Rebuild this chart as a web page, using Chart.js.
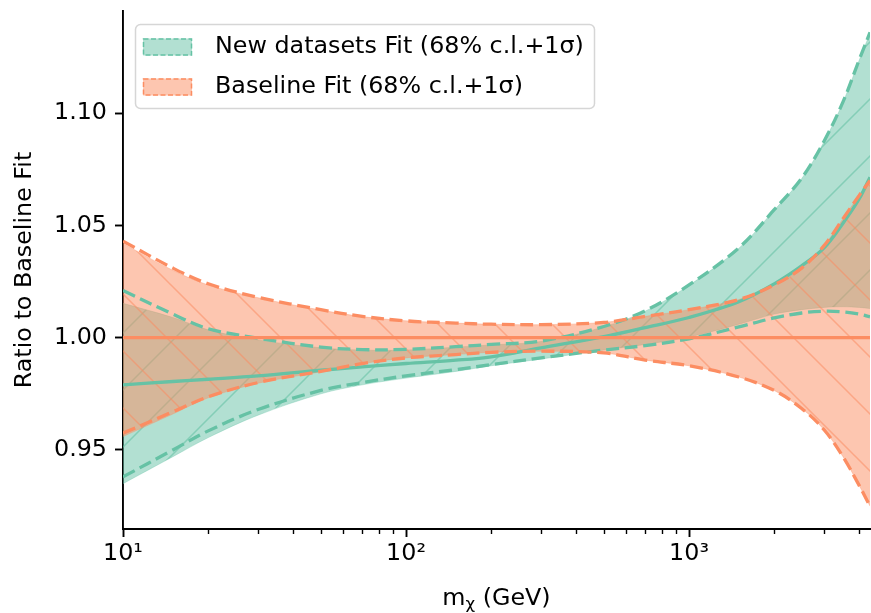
<!DOCTYPE html>
<html>
<head>
<meta charset="utf-8">
<script src="https://cdn.jsdelivr.net/npm/chart.js@4.4.1/dist/chart.umd.min.js"></script>
<style>
  html, body { margin: 0; padding: 0; background: #fff; }
</style>
</head>
<body>
<canvas id="myChart" width="871" height="613"></canvas>
<script>
// dark matter mass grid (GeV)
var masses = [10, 15, 20, 30, 50, 70, 100, 150, 200, 300, 500, 700, 1000, 1500, 2000, 2500, 3000, 3500, 4000, 4360];

// new datasets fit, ratio to baseline
var newCentral = [0.979, 0.9805, 0.9815, 0.983, 0.9855, 0.987, 0.9885, 0.990, 0.9915, 0.9955, 1.0005, 1.0045, 1.009, 1.016, 1.024, 1.032, 1.040, 1.051, 1.062, 1.0715];
var newHi68 = [1.0153, 1.009, 1.0035, 0.999, 0.9955, 0.9945, 0.9945, 0.9958, 0.9968, 0.9983, 1.0048, 1.0118, 1.0233, 1.0398, 1.0568, 1.0708, 1.0873, 1.1048, 1.1238, 1.1355];
var newLo68 = [0.935, 0.947, 0.9555, 0.9655, 0.975, 0.979, 0.982, 0.985, 0.9875, 0.9905, 0.9945, 0.997, 1.0003, 1.006, 1.0105, 1.0125, 1.0135, 1.0138, 1.0135, 1.013];
var newHi1s = [1.021, 1.0105, 1.004, 0.9998, 0.9958, 0.9947, 0.9948, 0.996, 0.997, 0.9985, 1.005, 1.012, 1.0235, 1.040, 1.057, 1.071, 1.0875, 1.105, 1.124, 1.136];
var newLo1s = [0.938, 0.950, 0.9585, 0.968, 0.9765, 0.980, 0.983, 0.9858, 0.988, 0.991, 0.9945, 0.9965, 0.9995, 1.0048, 1.0088, 1.011, 1.0118, 1.0115, 1.0105, 1.0093];

// baseline fit
var baseCentral = [1, 1, 1, 1, 1, 1, 1, 1, 1, 1, 1, 1, 1, 1, 1, 1, 1, 1, 1, 1];
var baseHi68 = [1.042, 1.030, 1.0235, 1.0178, 1.0123, 1.0094, 1.0075, 1.0065, 1.006, 1.0058, 1.0068, 1.0095, 1.0125, 1.017, 1.0235, 1.031, 1.041, 1.053, 1.0635, 1.070];
var baseLo68 = [0.956, 0.966, 0.9732, 0.9797, 0.9848, 0.9884, 0.991, 0.9925, 0.9935, 0.994, 0.9932, 0.990, 0.9875, 0.9825, 0.9765, 0.9685, 0.959, 0.947, 0.934, 0.925];
var baseHi1s = [1.043, 1.031, 1.024, 1.018, 1.0125, 1.0095, 1.0075, 1.0065, 1.006, 1.0058, 1.0068, 1.0095, 1.0125, 1.017, 1.0235, 1.031, 1.041, 1.053, 1.0635, 1.070];
var baseLo1s = [0.9575, 0.967, 0.9737, 0.980, 0.985, 0.9885, 0.991, 0.9925, 0.9935, 0.994, 0.9932, 0.990, 0.9875, 0.9825, 0.9765, 0.9685, 0.959, 0.947, 0.934, 0.925];

// axes
var xMajorTicks = [10, 100, 1000];
var xTickLabels = ['10\u00B9', '10\u00B2', '10\u00B3'];
var xMinorTicks = [20, 30, 40, 50, 60, 70, 80, 90, 200, 300, 400, 500, 600, 700, 800, 900, 2000, 3000, 4000];
var yTicks = [0.95, 1.00, 1.05, 1.10];

var GREEN = '#66c2a5';
var ORANGE = '#fc8d62';
var FONT = 'DejaVu Sans';
var FSIZE = 23.8;

var canvas = document.getElementById('myChart');
var ctx = canvas.getContext('2d');

function pts(arr) {
   return masses.map(function (m, i) { return {x: m, y: arr[i]}; });
}

// hatched, semi transparent fill
function hatch(fill, line, size, forward) {
   var c = document.createElement('canvas');
   c.width = size; c.height = size;
   var g = c.getContext('2d');
   g.fillStyle = fill;
   g.fillRect(0, 0, size, size);
   g.strokeStyle = line;
   g.lineWidth = 1.5;
   g.beginPath();
   if (forward) {
      g.moveTo(-2, size + 2); g.lineTo(size + 2, -2);
      g.moveTo(-2, 2); g.lineTo(2, -2);
      g.moveTo(size - 2, size + 2); g.lineTo(size + 2, size - 2);
   } else {
      g.moveTo(-2, -2); g.lineTo(size + 2, size + 2);
      g.moveTo(size - 2, -2); g.lineTo(size + 2, 2);
      g.moveTo(-2, size - 2); g.lineTo(2, size + 2);
   }
   g.stroke();
   return ctx.createPattern(c, 'repeat');
}

var greenHatch = hatch('rgba(102,194,165,0.5)', 'rgba(102,194,165,0.6)', 57, true);
var orangeHatch = hatch('rgba(252,141,98,0.5)', 'rgba(252,141,98,0.55)', 57, false);

function band(label, arr, color, fill, bg, order) {
   return {
      label: label,
      data: pts(arr),
      borderColor: color,
      borderWidth: 1,
      backgroundColor: bg,
      fill: fill,
      pointRadius: 0,
      tension: 0.35,
      order: order
   };
}

function curve(arr, color, dashed, order) {
   return {
      data: pts(arr),
      borderColor: color,
      borderWidth: 3.3,
      borderDash: dashed ? [13, 5.7] : [],
      fill: false,
      pointRadius: 0,
      tension: 0.35,
      order: order
   };
}

var datasets = [
   band('', newLo68, 'rgba(102,194,165,0.35)', false, 'transparent', 10),
   band('New datasets Fit (68% c.l.+1\u03C3)', newHi68, 'rgba(102,194,165,0.35)', '-1', greenHatch, 10),
   band('', baseLo68, 'rgba(252,141,98,0.35)', false, 'transparent', 9),
   band('Baseline Fit (68% c.l.+1\u03C3)', baseHi68, 'rgba(252,141,98,0.35)', '-1', orangeHatch, 9),
   curve(newCentral, GREEN, false, 3),
   curve(newHi1s, GREEN, true, 3),
   curve(newLo1s, GREEN, true, 3),
   curve(baseCentral, ORANGE, false, 2),
   curve(baseHi1s, ORANGE, true, 2),
   curve(baseLo1s, ORANGE, true, 2)
];

// short minor ticks on the log axis
var minorTickPlugin = {
   id: 'minorTicks',
   afterDraw: function (chart) {
      var xs = chart.scales.x;
      var c = chart.ctx;
      c.save();
      c.strokeStyle = '#000';
      c.lineWidth = 1.4;
      xMinorTicks.forEach(function (v) {
         var px = Math.round(xs.getPixelForValue(v)) + 0.5;
         c.beginPath();
         c.moveTo(px, xs.top);
         c.lineTo(px, xs.top + 5);
         c.stroke();
      });
      c.restore();
   }
};

// x axis title with a subscript chi
var xTitlePlugin = {
   id: 'xTitle',
   afterDraw: function (chart) {
      var xs = chart.scales.x;
      var c = chart.ctx;
      var big = FSIZE + 'px "' + FONT + '"';
      var small = (FSIZE * 0.7) + 'px "' + FONT + '"';
      c.save();
      c.fillStyle = '#000';
      c.textBaseline = 'alphabetic';
      c.textAlign = 'left';
      c.font = big;
      var wm = c.measureText('m').width;
      var wr = c.measureText(' (GeV)').width;
      c.font = small;
      var wc = c.measureText('\u03C7').width;
      var x0 = (xs.left + xs.right) / 2 - (wm + wc + wr) / 2;
      var base = 604.5;
      c.font = big;
      c.fillText('m', x0, base);
      c.font = small;
      c.fillText('\u03C7', x0 + wm, base + 4.5);
      c.font = big;
      c.fillText(' (GeV)', x0 + wm + wc, base);
      c.restore();
   }
};

// matplotlib style legend box
var legendPlugin = {
   id: 'boxLegend',
   afterDraw: function (chart) {
      var c = chart.ctx;
      var items = [
         {ds: chart.data.datasets[1], color: GREEN, fill: 'rgba(102,194,165,0.5)'},
         {ds: chart.data.datasets[3], color: ORANGE, fill: 'rgba(252,141,98,0.5)'}
      ];
      c.save();
      c.beginPath();
      c.roundRect(135.5, 24.5, 459, 84, 5);
      c.fillStyle = 'rgba(255,255,255,0.8)';
      c.fill();
      c.strokeStyle = 'rgba(204,204,204,0.8)';
      c.lineWidth = 1.5;
      c.stroke();
      items.forEach(function (it, i) {
         var cy = 47 + i * 40;
         c.fillStyle = it.fill;
         c.fillRect(143, cy - 8.5, 49, 17);
         c.setLineDash([5, 2.5]);
         c.strokeStyle = it.color;
         c.lineWidth = 1.5;
         c.strokeRect(143.5, cy - 8, 48, 16);
         c.setLineDash([]);
         c.fillStyle = '#000';
         c.font = FSIZE + 'px "' + FONT + '"';
         c.textBaseline = 'middle';
         c.textAlign = 'left';
         c.fillText(it.ds.label, 215, cy);
      });
      c.restore();
   }
};

new Chart(ctx, {
   type: 'line',
   data: {datasets: datasets},
   plugins: [minorTickPlugin, xTitlePlugin, legendPlugin],
   options: {
      responsive: false,
      animation: false,
      events: [],
      layout: {padding: {top: 11, right: 1, left: 0, bottom: 0}},
      plugins: {
         legend: {display: false},
         tooltip: {enabled: false}
      },
      scales: {
         x: {
            type: 'logarithmic',
            min: 10,
            max: 4360,
            afterFit: function (s) { s.height = 84; s.paddingLeft = 0; s.paddingRight = 0; },
            afterBuildTicks: function (s) {
               s.ticks = xMajorTicks.map(function (v) { return {value: v, major: true}; });
            },
            grid: {display: true, drawOnChartArea: false, drawTicks: true, tickLength: 8, tickWidth: 1.9, tickColor: '#000'},
            border: {display: true, color: '#000', width: 1.9},
            ticks: {
               autoSkip: false,
               maxRotation: 0,
               padding: 6,
               color: '#000',
               font: {family: FONT, size: FSIZE, lineHeight: 0.9},
               callback: function (v, i) { return xTickLabels[i]; }
            },
            title: {display: false}
         },
         y: {
            type: 'linear',
            min: 0.9148,
            max: 1.1455,
            afterFit: function (s) { s.width = 123; s.paddingTop = 0; s.paddingBottom = 0; },
            afterBuildTicks: function (s) {
               s.ticks = yTicks.map(function (v) { return {value: v}; });
            },
            grid: {display: true, drawOnChartArea: false, drawTicks: true, tickLength: 8, tickWidth: 1.9, tickColor: '#000'},
            border: {display: true, color: '#000', width: 1.9},
            ticks: {
               padding: 8,
               color: '#000',
               font: {family: FONT, size: FSIZE, lineHeight: 0.9},
               callback: function (v) { return v.toFixed(2); }
            },
            title: {
               display: true,
               text: 'Ratio to Baseline Fit',
               color: '#000',
               font: {family: FONT, size: FSIZE},
               padding: {top: 11, bottom: 0}
            }
         }
      }
   }
});
</script>
</body>
</html>
